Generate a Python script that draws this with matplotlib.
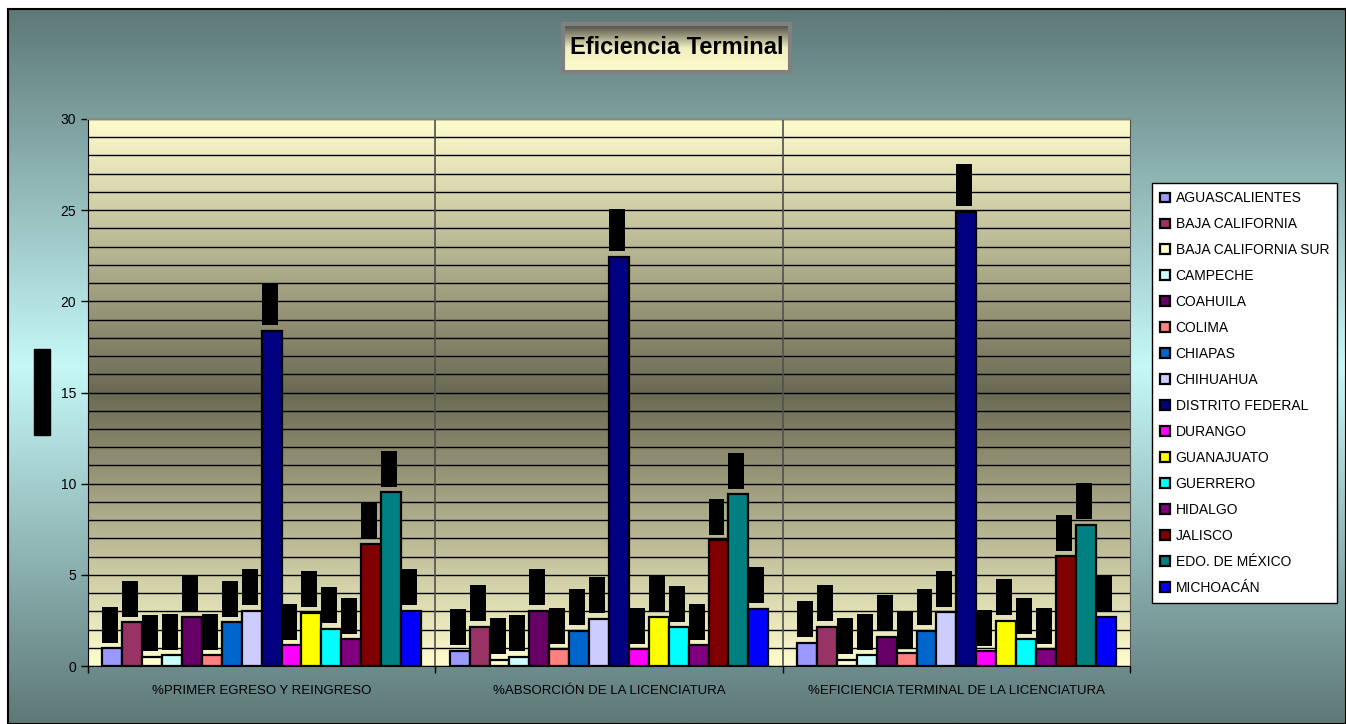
import numpy as np
import matplotlib
matplotlib.use("Agg")
import matplotlib.pyplot as plt
from matplotlib.colors import LinearSegmentedColormap
from matplotlib.ticker import MultipleLocator

plt.rcParams['font.family'] = ['Liberation Sans', 'DejaVu Sans']

# ---------------- data ----------------
categories = ["%PRIMER EGRESO Y REINGRESO",
              "%ABSORCIÓN DE LA LICENCIATURA",
              "%EFICIENCIA TERMINAL DE LA LICENCIATURA"]

states = ["AGUASCALIENTES", "BAJA CALIFORNIA", "BAJA CALIFORNIA SUR", "CAMPECHE",
          "COAHUILA", "COLIMA", "CHIAPAS", "CHIHUAHUA", "DISTRITO FEDERAL",
          "DURANGO", "GUANAJUATO", "GUERRERO", "HIDALGO", "JALISCO",
          "EDO. DE MÉXICO", "MICHOACÁN"]

aguascalientes = [0.97, 0.84, 1.28]
baja_california = [2.40, 2.16, 2.16]
baja_california_sur = [0.51, 0.33, 0.33]
campeche = [0.60, 0.51, 0.60]
coahuila = [2.70, 3.03, 1.61]
colima = [0.60, 0.93, 0.70]
chiapas = [2.40, 1.94, 1.94]
chihuahua = [3.03, 2.58, 2.94]
distrito_federal = [18.38, 22.44, 24.90]
durango = [1.15, 0.93, 0.82]
guanajuato = [2.92, 2.70, 2.47]
guerrero = [2.03, 2.12, 1.46]
hidalgo = [1.48, 1.15, 0.93]
jalisco = [6.69, 6.91, 6.03]
edo_mexico = [9.54, 9.43, 7.76]
michoacan = [3.03, 3.13, 2.70]

series = [aguascalientes, baja_california, baja_california_sur, campeche,
          coahuila, colima, chiapas, chihuahua, distrito_federal, durango,
          guanajuato, guerrero, hidalgo, jalisco, edo_mexico, michoacan]

colors = ["#9999FF", "#993366", "#FFFFCC", "#CCFFFF", "#660066", "#FF8080",
          "#0066CC", "#CCCCFF", "#000080", "#FF00FF", "#FFFF00", "#00FFFF",
          "#800080", "#800000", "#008080", "#0000FF"]

title = "Eficiencia Terminal"
ylabel = "PORCENTAJE"
yticks = [0, 5, 10, 15, 20, 25, 30]

# ---------------- figure ----------------
WP, HP = 1346, 724
fig = plt.figure(figsize=(WP / 100, HP / 100), dpi=100)

def fx(px):
    return px / WP

def fy(py):
    return 1 - py / HP

# background with vertical gradient
bg = fig.add_axes([fx(8), 0, 1 - fx(8), fy(9)])
bg.set_zorder(-10)
bg_cmap = LinearSegmentedColormap.from_list("bg", ["#5d7877", "#c6f8f8", "#5d7877"])
grad = np.linspace(0, 1, 512).reshape(-1, 1)
bg.imshow(grad, cmap=bg_cmap, aspect="auto", extent=[0, 1, 0, 1])
bg.set_xticks([]); bg.set_yticks([])
for s in bg.spines.values():
    s.set_color("black"); s.set_linewidth(1.5)

# plot area
ax = fig.add_axes([fx(88), fy(666), fx(1130) - fx(88), fy(119) - fy(666)])
pa_cmap = LinearSegmentedColormap.from_list("pa", ["#fffdcd", "#6a6953", "#fffdcd"])
ax.imshow(grad, cmap=pa_cmap, aspect="auto", extent=[0, 3, 0, 30], zorder=0)
ax.set_xlim(0, 3)
ax.set_ylim(0, 30)
ax.set_axisbelow(True)
ax.yaxis.set_major_locator(MultipleLocator(5))
ax.yaxis.set_minor_locator(MultipleLocator(1))
ax.set_yticks(yticks)
ax.grid(which="both", axis="y", color="black", lw=1.0)
ax.tick_params(axis="y", which="major", length=5, direction="out", labelsize=10, width=1)
ax.tick_params(axis="y", which="minor", length=0)
for v in (1, 2):
    ax.axvline(v, color="#505050", lw=1.2, zorder=1)

ax.set_xticks([0, 1, 2, 3])
ax.set_xticklabels([])
ax.tick_params(axis="x", which="major", length=5, direction="out", width=1)
ax.set_xticks([0.5, 1.5, 2.5], minor=True)
ax.set_xticklabels(categories, minor=True)
ax.tick_params(axis="x", which="minor", length=0, pad=14, labelsize=9.5)

ax.spines["left"].set_color("black")
ax.spines["bottom"].set_color("black")
ax.spines["top"].set_color("#8a8a8a")
ax.spines["right"].set_color("#505050")
ax.spines["top"].set_linewidth(1.5)

n = len(states)
w = 0.0573
centers = np.arange(len(categories)) + 0.5
px_per_unit = (666 - 119) / 30.0
gap = 5.5 / px_per_unit
handles = []
for i, (name, vals, col) in enumerate(zip(states, series, colors)):
    x = centers - n / 2 * w + (i + 0.5) * w
    b = ax.bar(x, vals, w, color=col, edgecolor="black", lw=1.6, zorder=3, label=name)
    handles.append(b)
    for xi, v in zip(x, vals):
        lbl = f"{v:.2f}"
        hbox = (10 + 6.5 * len(lbl)) / px_per_unit
        ax.bar(xi - w / 2, hbox, 0.8 * w, bottom=v + gap, align="edge",
               color="black", lw=0, zorder=4)
        ax.text(xi - w / 2 + 0.4 * w, v + gap + hbox / 2, lbl, rotation=90,
                color="black", fontsize=7, ha="center", va="center", zorder=5)

# y-axis label (black box)
fig.text(fx(42), fy(392), ylabel, rotation=90, ha="center", va="center",
         color="black", fontsize=9,
         bbox=dict(boxstyle="square,pad=0.15", fc="black", ec="black"))

# legend
leg = fig.legend(handles=handles, labels=states, loc="upper left",
                 bbox_to_anchor=(fx(1152), fy(183)), frameon=True, fancybox=False,
                 edgecolor="black", framealpha=1, facecolor="white", fontsize=10,
                 labelspacing=0.86, handlelength=0.7, handleheight=0.7,
                 handletextpad=0.4, borderpad=0.6, borderaxespad=0)
leg.get_frame().set_linewidth(1.0)

# title box with gradient
tax = fig.add_axes([fx(563), fy(72), fx(790) - fx(563), fy(24) - fy(72)])
t_cmap = LinearSegmentedColormap.from_list("tt", ["#45453f", "#f0eec0", "#fffdcd"])
tax.imshow(grad, cmap=t_cmap, aspect="auto", extent=[0, 1, 0, 1])
tax.set_xlim(0, 1); tax.set_ylim(0, 1)
tax.set_xticks([]); tax.set_yticks([])
for s in tax.spines.values():
    s.set_color("#808080"); s.set_linewidth(3)
tax.text(0.5, 0.5, title, ha="center", va="center", fontsize=17,
         fontweight="bold", color="black", transform=tax.transAxes)

fig.savefig("out.png", dpi=100)
